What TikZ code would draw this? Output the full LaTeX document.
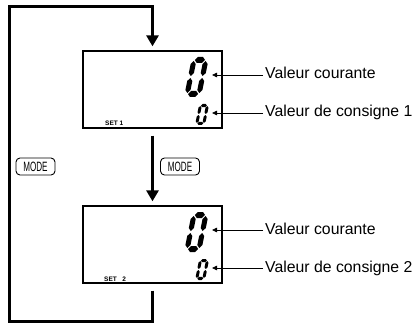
\documentclass[tikz,border=0pt]{standalone}
\usepackage{fontspec}
\setmainfont{Liberation Sans}
\usepackage{graphicx}
\usepackage{tikz}
\usetikzlibrary{arrows.meta,positioning,calc}

\tikzset{
  flow/.style={line width=3pt, line join=miter, -{Triangle[width=12pt,length=11pt]}},
  pointer/.style={line width=0.8pt, -{Triangle[width=4.5pt,length=5pt]}},
  display/.style={draw, line width=1.3pt, minimum width=139pt, minimum height=77pt, inner sep=0pt},
  modekey/.style={draw, line width=0.9pt, rounded corners=4pt, minimum width=39pt, minimum height=17pt, inner sep=0pt},
  modetext/.style={font=\fontsize{13.5}{14}\selectfont},
  valtext/.style={anchor=west, inner sep=0pt, text height=11.3pt, text depth=3.3pt, font=\fontsize{15.8}{18}\selectfont},
  settext/.style={anchor=base west, inner sep=0pt, font=\fontsize{6.5}{7}\selectfont\bfseries},
  segzero/.pic={
    % horizontal segments
    \foreach \yy in {0.15,1.85}
      \fill (0.2,\yy) -- (0.35,\yy+0.15) -- (0.65,\yy+0.15) -- (0.8,\yy) -- (0.65,\yy-0.15) -- (0.35,\yy-0.15) -- cycle;
    % vertical segments
    \foreach \xx/\ya/\yb in {0.15/0.2/0.95, 0.15/1.05/1.8, 0.85/0.2/0.95, 0.85/1.05/1.8}
      \fill (\xx,\ya) -- (\xx+0.15,\ya+0.15) -- (\xx+0.15,\yb-0.15) -- (\xx,\yb) -- (\xx-0.15,\yb-0.15) -- (\xx-0.15,\ya+0.15) -- cycle;
  }
}

\begin{document}
\begin{tikzpicture}[x=1pt, y=-1pt]
        \useasboundingbox (0,0) rectangle (414,323);

        % Displays
        \node[display] (disp1) at (152.5,89.5) {};
        \node[display] (disp2) at (152.5,244.5) {};

        % Digits
        \path (184,97) pic[x=17pt, y=20pt, xslant=0.2] {segzero};
        \path (195,125) pic[x=10pt, y=10.5pt, xslant=0.2] {segzero};
        \path (184,252) pic[x=17pt, y=20pt, xslant=0.2] {segzero};
        \path (195,280) pic[x=10pt, y=10.5pt, xslant=0.2] {segzero};

        \node[settext] (set1) at (105,126) {SET 1};
        \node[settext] (set2) at (104,281) {SET\ \ \ 2};

        % Labels
        \coordinate (cur1) at (212,75);
        \coordinate (sp1) at (212,113);
        \coordinate (cur2) at (212,230);
        \coordinate (sp2) at (212,268);
        \node[valtext] (lblcur1) at (265,75) {Valeur courante};
        \node[valtext] (lblsp1) at (265,113) {Valeur de consigne 1};
        \node[valtext] (lblcur2) at (265,230) {Valeur courante};
        \node[valtext] (lblsp2) at (265,268) {Valeur de consigne 2};
        \draw[pointer, shorten <=2pt] (lblcur1.west) -- (cur1);
        \draw[pointer, shorten <=2pt] (lblsp1.west) -- (sp1);
        \draw[pointer, shorten <=2pt] (lblcur2.west) -- (cur2);
        \draw[pointer, shorten <=2pt] (lblsp2.west) -- (sp2);

        % MODE keys
        \node[modekey, modetext] (keyloop) at (35.5,166.5) {\scalebox{0.6}[1]{MODE}};
        \node[modekey, modetext] (keynext) at (180,166.5) {\scalebox{0.6}[1]{MODE}};

        % Flow
        \coordinate (loopbl) at (9,321.5);
        \coordinate (looptl) at (9,7);
        \draw[flow, shorten <=7pt, shorten >=4pt] (disp1) -- (disp2);
        \draw[flow, shorten <=7pt, shorten >=4pt] (disp2.south) |- (loopbl) -- (looptl) -| (disp1.north);
    \end{tikzpicture}
\end{document}
